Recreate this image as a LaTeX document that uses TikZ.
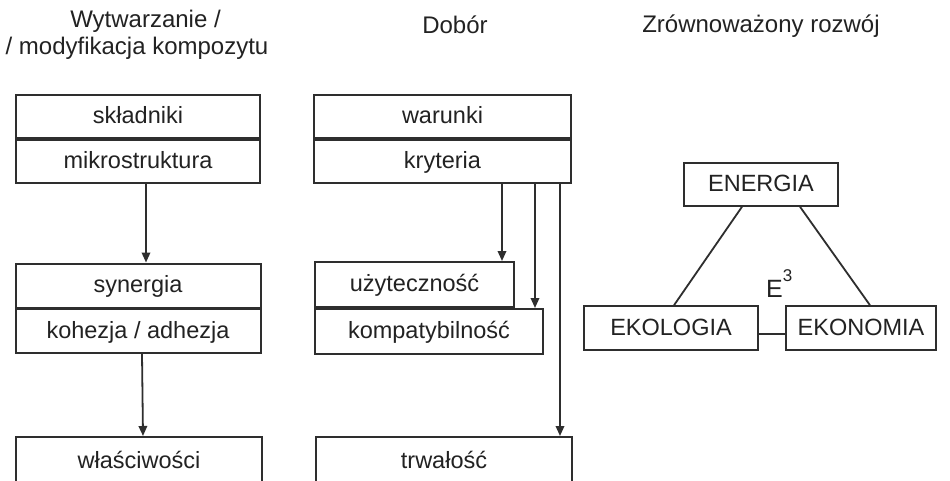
\documentclass[tikz,border=0pt]{standalone}
\usepackage{fontspec}
\setmainfont{Liberation Sans}
\usetikzlibrary{arrows.meta}
\definecolor{ln}{HTML}{2e2e2e}
\definecolor{tx}{HTML}{222222}
\begin{document}
\begin{tikzpicture}[x=1pt,y=-1pt,
  every node/.style={text=tx, font=\fontsize{23.5}{28}\selectfont},
  box/.style 2 args={draw=ln, line width=2pt, minimum width=#1, minimum height=#2, inner sep=0pt, text height=18.5pt, text depth=4.5pt},
  arr/.style={draw=ln, line width=1.8pt, -{Triangle[width=8.5pt,length=10pt]}},
  link/.style={draw=ln, line width=1.8pt},
  title/.style={anchor=base, font=\fontsize{24}{28}\selectfont}]
\clip (0,0) rectangle (950,481);
\fill[white] (0,0) rectangle (950,481);

% titles
\node[title] (t1a) at (145.5,28) {Wytwarzanie /};
\node[title] (t1b) at (137,55) {/ modyfikacja kompozytu};
\node[title] (t2) at (455,34) {Dobór};
\node[title] (t3) at (761,33) {Zrównoważony rozwój};

% left column
\node[box={244pt}{43pt}] (skl) at (138,116.5) {składniki};
\node[box={244pt}{43pt}] (mik) at (138,161.5) {mikrostruktura};
\node[box={245pt}{44pt}] (syn) at (138,285.5) {synergia};
\node[box={245pt}{44pt}] (koh) at (138,331) {kohezja / adhezja};
\node[box={246pt}{48pt}] (wla) at (139,461) {właściwości};
\draw[arr] ([xshift=8pt]mik.south) -- ([xshift=8pt]syn.north);
\draw[arr] ([xshift=4pt]koh.south) -- ([xshift=4pt]wla.north);

% middle column
\node[box={257pt}{43pt}] (war) at (442.5,116.5) {warunki};
\node[box={257pt}{43pt}] (kry) at (442.5,161.5) {kryteria};
\node[box={199pt}{45pt}] (uzy) at (414.5,284.5) {użyteczność};
\node[box={228pt}{45pt}] (kom) at (429,331.5) {kompatybilność};
\node[box={256pt}{48pt}] (trw) at (444,461) {trwałość};
\coordinate (ax1) at (502,0);
\coordinate (ax2) at (535,0);
\coordinate (ax3) at (560,0);
\draw[arr] (kry.south -| ax1) -- (uzy.north -| ax1);
\draw[arr] (kry.south -| ax2) -- (kom.north -| ax2);
\draw[arr] (kry.south -| ax3) -- (trw.north -| ax3);

% right part
\node[box={154pt}{43pt}, line width=1.5pt] (ene) at (761,184.5) {ENERGIA};
\node[box={174pt}{44pt}, line width=1.5pt] (eko) at (671,328) {EKOLOGIA};
\node[box={150pt}{44pt}, line width=1.5pt] (ekn) at (861,328) {EKONOMIA};
\coordinate (l1) at (742,0);
\coordinate (l2) at (674,0);
\coordinate (l3) at (800,0);
\coordinate (l4) at (870,0);
\coordinate (lk) at (0,334);
\draw[link] (ene.south -| l1) -- (eko.north -| l2);
\draw[link] (ene.south -| l3) -- (ekn.north -| l4);
\draw[link] (eko.east |- lk) -- (ekn.west |- lk);
\node[anchor=base west, inner sep=0pt, font=\fontsize{25}{28}\selectfont] (e3) at (766,297) {E\raisebox{16pt}{\fontsize{17}{17}\selectfont 3}};
\end{tikzpicture}
\end{document}
